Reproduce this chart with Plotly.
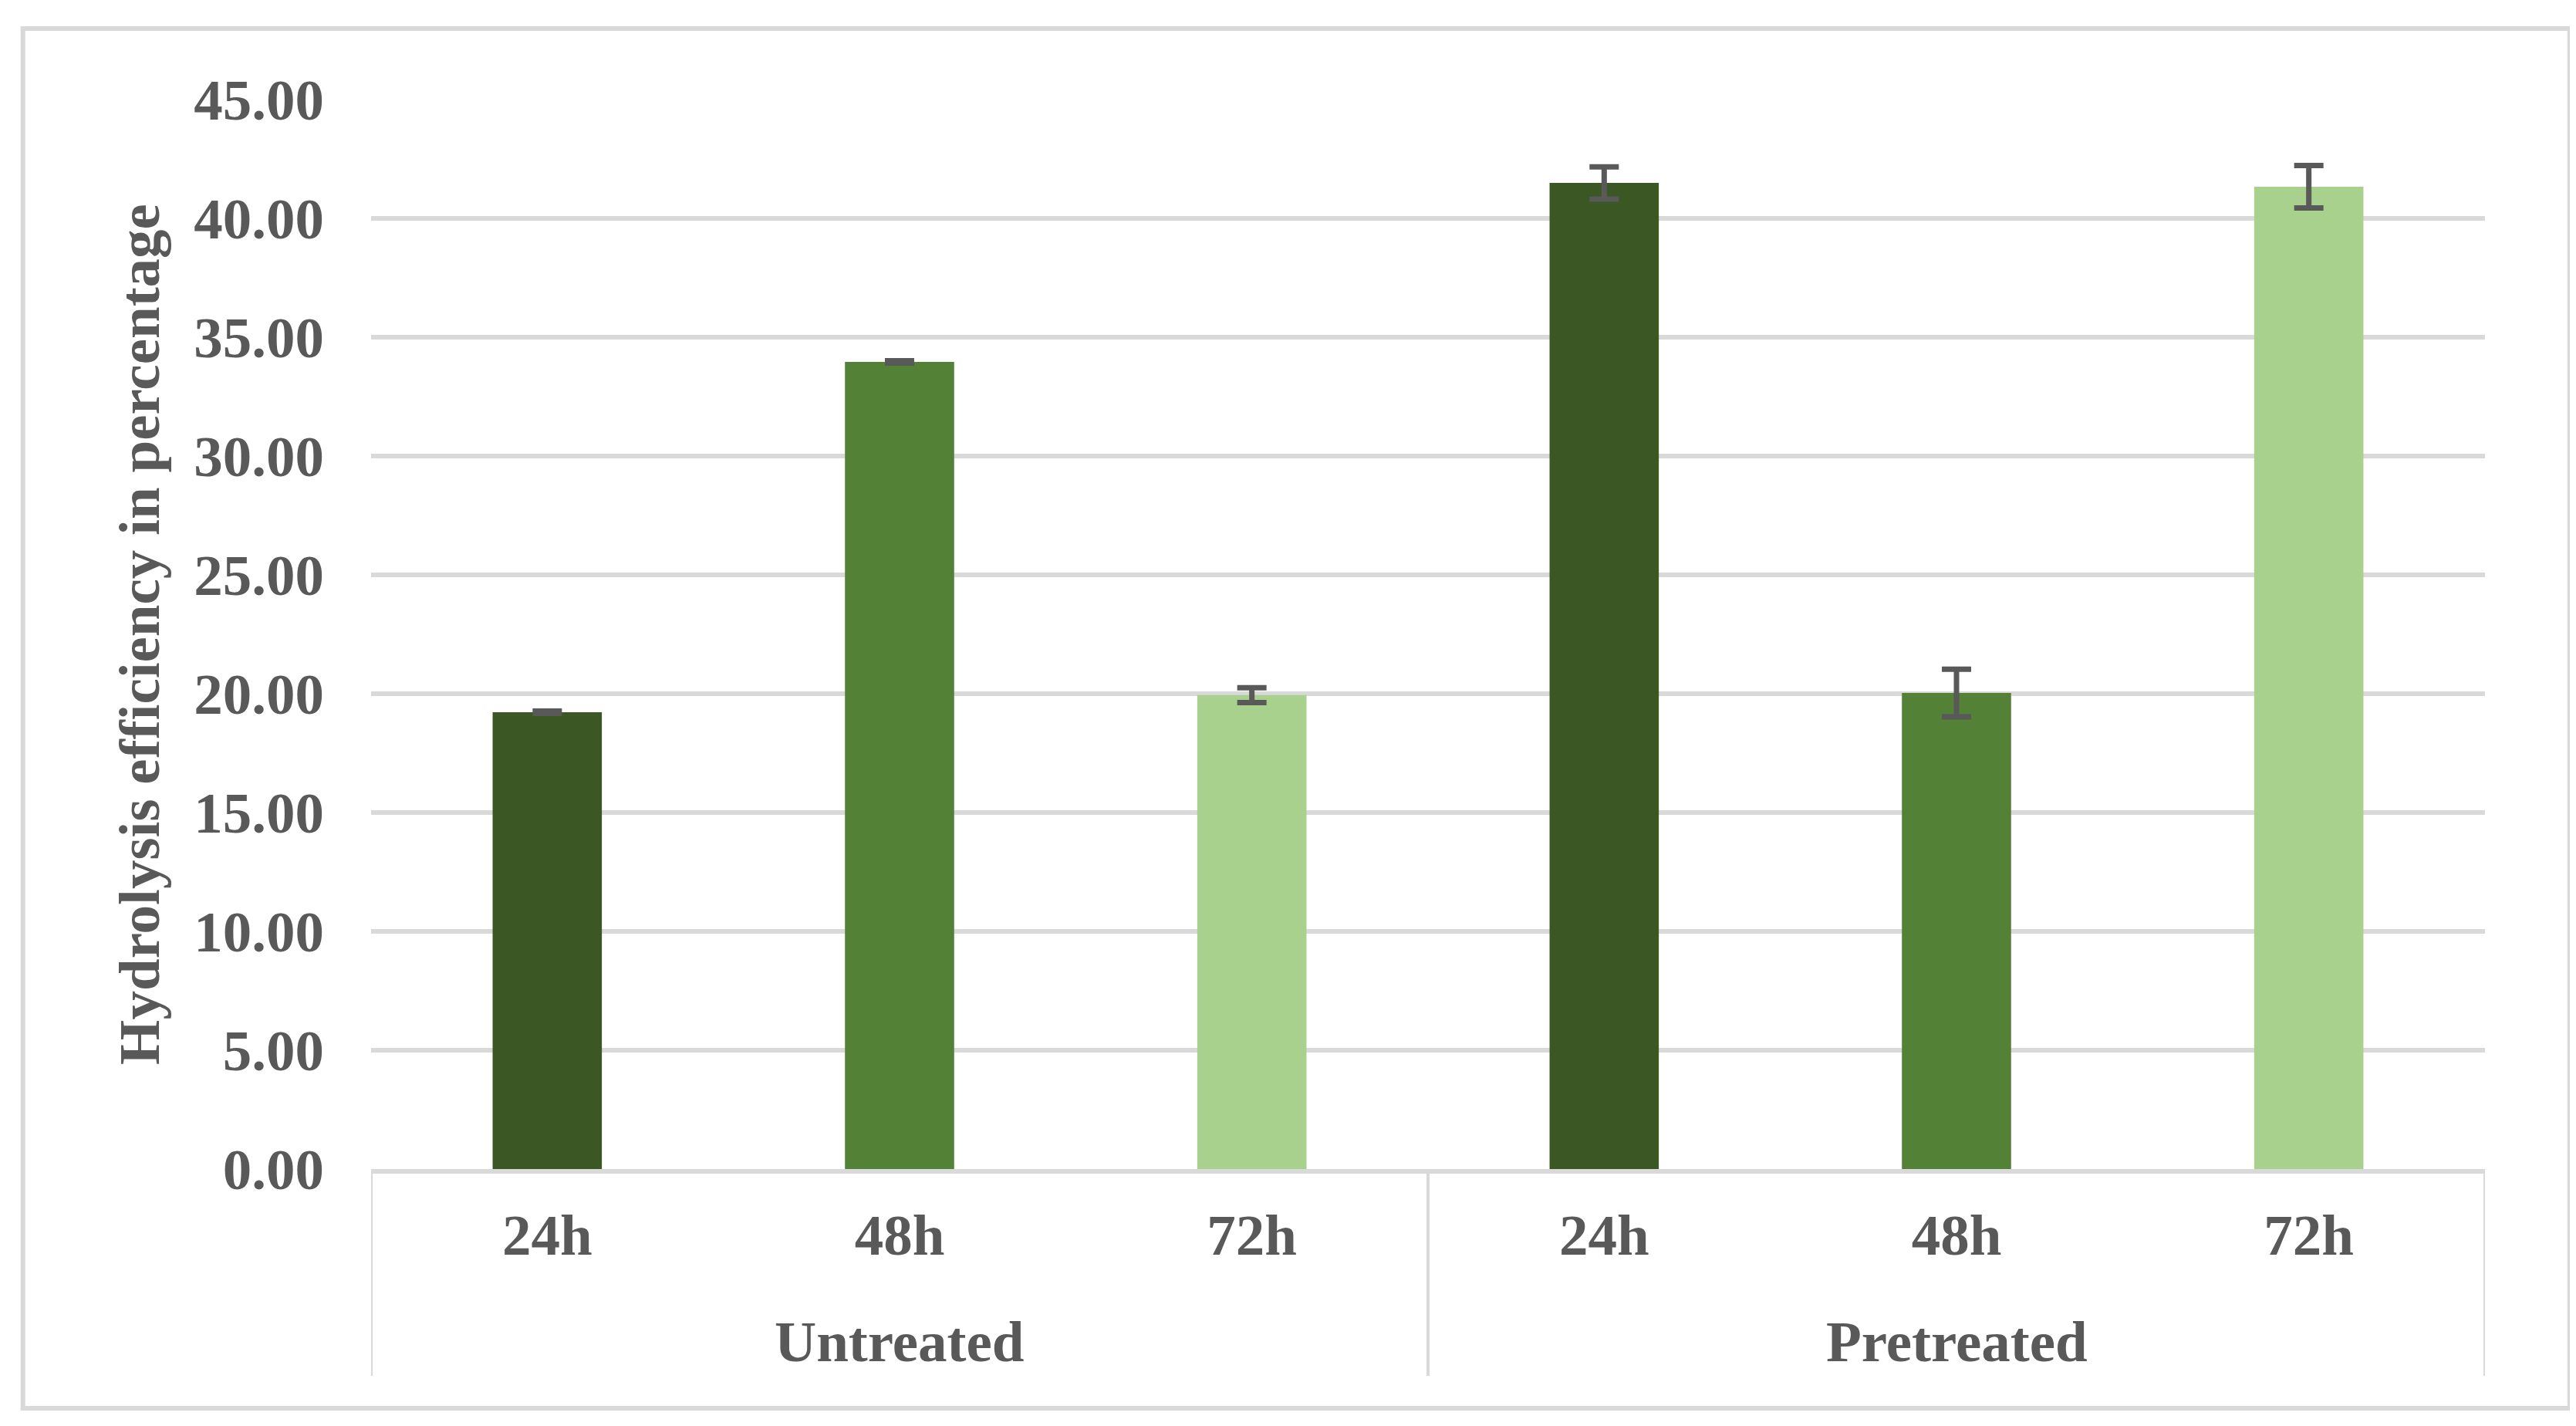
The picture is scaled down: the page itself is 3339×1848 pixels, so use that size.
import plotly.graph_objects as go

groups = ["Untreated", "Pretreated"]
times = ["24h", "48h", "72h", "24h", "48h", "72h"]
categories = ["Untreated 24h", "Untreated 48h", "Untreated 72h",
              "Pretreated 24h", "Pretreated 48h", "Pretreated 72h"]
values = [19.22, 33.96, 19.94, 41.49, 20.03, 41.33]
errors = [0.05, 0.05, 0.31, 0.68, 1.0, 0.89]
colors = ["#3A5724", "#538135", "#A9D18E", "#3A5724", "#538135", "#A9D18E"]
yticks = [0, 5, 10, 15, 20, 25, 30, 35, 40, 45]

FONT = "Liberation Serif"
TXT = "#595959"
GRID = "#D9D9D9"
FS = 75

fig = go.Figure()
fig.add_trace(go.Bar(
    x=categories,
    y=values,
    marker=dict(color=colors, line=dict(width=0)),
    error_y=dict(type="data", array=errors, visible=True, color=TXT, thickness=7, width=19),
    showlegend=False,
))

fig.update_layout(
    width=3323, height=1832,
    margin=dict(l=473, r=110, t=121, b=325),
    paper_bgcolor="white", plot_bgcolor="white",
    bargap=0.69,
    font=dict(family=FONT, color=TXT, size=FS),
    xaxis=dict(
        type="category",
        range=[-0.5, 5.5],
        tickvals=categories, ticktext=times,
        showline=True, linecolor=GRID, linewidth=6,
        showgrid=False, ticks="",
        tickfont=dict(family=FONT, size=FS, color=TXT, weight="bold"),
        ticklabelstandoff=15,
    ),
    yaxis=dict(
        range=[0, 45], tickvals=yticks,
        ticktext=[f"{v:.2f}" for v in yticks],
        showgrid=True, gridcolor=GRID, gridwidth=6,
        zeroline=False, showline=False,
        tickfont=dict(family=FONT, size=FS, color=TXT, weight="bold"),
        ticklabelstandoff=60,
        title=dict(text="Hydrolysis efficiency in percentage",
                   font=dict(family=FONT, size=FS, color=TXT, weight="bold"),
                   standoff=20),
    ),
)

# group dividers below the category axis
for xd in [-0.5, 2.5, 5.5]:
    fig.add_shape(type="line", xref="x", yref="paper", x0=xd, x1=xd, y0=0, y1=-0.1934,
                  line=dict(color=GRID, width=4))

# group labels
for gi, g in enumerate(groups):
    fig.add_annotation(x=gi * 3 + 1, xref="x", y=-0.1609, yref="paper",
                       text=g, showarrow=False, yanchor="middle", xanchor="center",
                       font=dict(family=FONT, size=FS, color=TXT, weight="bold"))

# outer chart border
fig.add_shape(type="rect", xref="paper", yref="paper",
              x0=-0.1647, x1=1.0401, y0=-0.2237, y1=1.0664,
              line=dict(color=GRID, width=6), fillcolor="rgba(0,0,0,0)", layer="below")

fig.write_html("out.html")
